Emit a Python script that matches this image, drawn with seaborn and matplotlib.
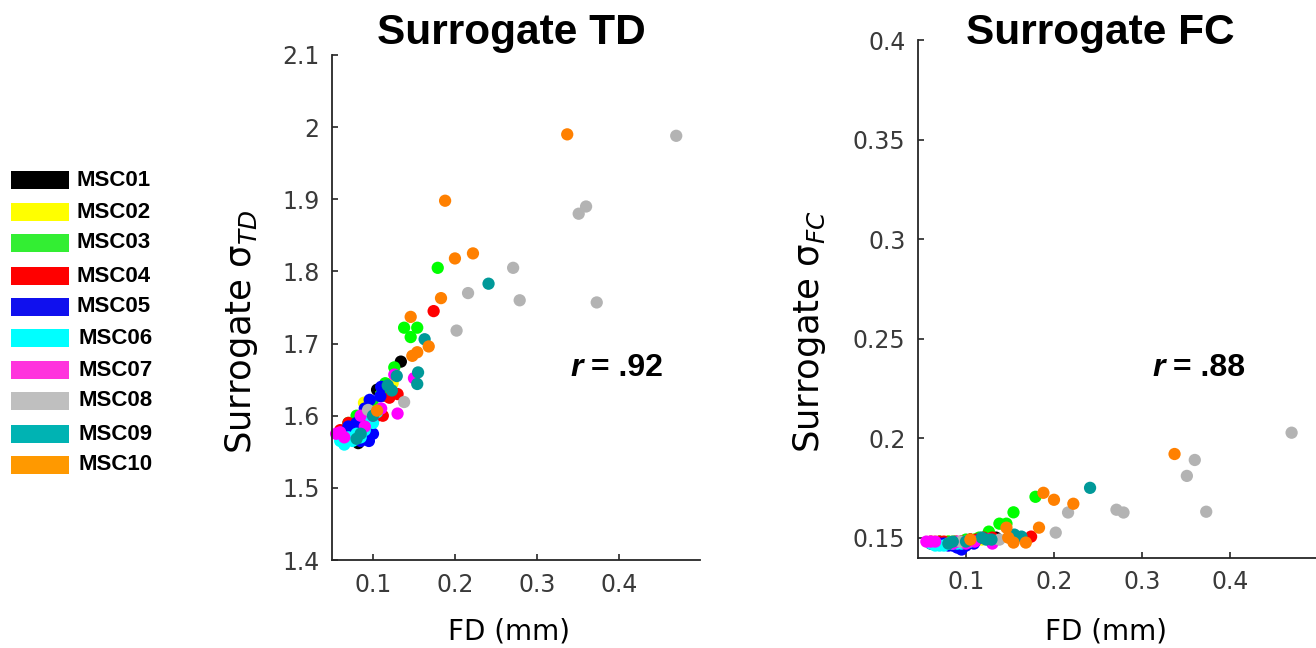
import numpy as np
import pandas as pd
import matplotlib
matplotlib.use("Agg")
import matplotlib.pyplot as plt
from matplotlib.patches import Rectangle
from matplotlib.ticker import FuncFormatter
import seaborn as sns

subjects = ["MSC01", "MSC02", "MSC03", "MSC04", "MSC05",
            "MSC06", "MSC07", "MSC08", "MSC09", "MSC10"]
point_colors = ["#000000", "#FFFF00", "#00FF00", "#FF0000", "#0000FF",
                "#00FFFF", "#FF00FF", "#B3B3B3", "#009999", "#FF8000"]
legend_colors = ["#000000", "#FFFF00", "#33EE33", "#FF0000", "#1010EE",
                 "#00FFFF", "#FF33DD", "#BFBFBF", "#00B3B3", "#FF9900"]

fd_MSC01 = [0.134, 0.105, 0.113, 0.098, 0.088, 0.060, 0.082, 0.095, 0.075, 0.090]
td_MSC01 = [1.675, 1.636, 1.628, 1.605, 1.592, 1.573, 1.562, 1.598, 1.580, 1.570]
fc_MSC01 = [0.150, 0.149, 0.149, 0.148, 0.148, 0.147, 0.147, 0.148, 0.147, 0.146]

fd_MSC02 = [0.124, 0.089, 0.100, 0.070, 0.080, 0.110, 0.065, 0.095, 0.118, 0.085]
td_MSC02 = [1.645, 1.618, 1.612, 1.580, 1.585, 1.630, 1.575, 1.600, 1.640, 1.590]
fc_MSC02 = [0.150, 0.148, 0.148, 0.147, 0.148, 0.149, 0.148, 0.148, 0.149, 0.148]

fd_MSC03 = [0.179, 0.138, 0.154, 0.146, 0.126, 0.115, 0.110, 0.100, 0.080, 0.070]
td_MSC03 = [1.805, 1.722, 1.722, 1.709, 1.667, 1.645, 1.630, 1.615, 1.600, 1.590]
fc_MSC03 = [0.1705, 0.157, 0.1627, 0.157, 0.153, 0.150, 0.149, 0.149, 0.148, 0.148]

fd_MSC04 = [0.174, 0.130, 0.112, 0.070, 0.075, 0.095, 0.105, 0.085, 0.060, 0.120]
td_MSC04 = [1.745, 1.630, 1.600, 1.590, 1.585, 1.590, 1.600, 1.575, 1.580, 1.625]
fc_MSC04 = [0.1505, 0.150, 0.149, 0.148, 0.148, 0.148, 0.149, 0.147, 0.148, 0.150]

fd_MSC05 = [0.096, 0.109, 0.090, 0.080, 0.075, 0.100, 0.085, 0.095, 0.110, 0.070]
td_MSC05 = [1.622, 1.627, 1.610, 1.590, 1.575, 1.575, 1.565, 1.565, 1.640, 1.585]
fc_MSC05 = [0.146, 0.147, 0.145, 0.146, 0.147, 0.146, 0.146, 0.144, 0.148, 0.147]

fd_MSC06 = [0.065, 0.075, 0.085, 0.090, 0.100, 0.070, 0.080, 0.095, 0.105, 0.060]
td_MSC06 = [1.560, 1.565, 1.570, 1.580, 1.590, 1.570, 1.575, 1.600, 1.605, 1.565]
fc_MSC06 = [0.146, 0.146, 0.147, 0.147, 0.148, 0.146, 0.147, 0.147, 0.148, 0.147]

fd_MSC07 = [0.126, 0.150, 0.130, 0.060, 0.055, 0.085, 0.100, 0.110, 0.090, 0.065]
td_MSC07 = [1.657, 1.652, 1.603, 1.577, 1.575, 1.600, 1.600, 1.610, 1.585, 1.570]
fc_MSC07 = [0.149, 0.150, 0.147, 0.148, 0.148, 0.147, 0.147, 0.148, 0.148, 0.148]

fd_MSC08 = [0.470, 0.360, 0.351, 0.271, 0.279, 0.373, 0.216, 0.202, 0.138, 0.094]
td_MSC08 = [1.988, 1.890, 1.880, 1.805, 1.760, 1.757, 1.770, 1.718, 1.619, 1.608]
fc_MSC08 = [0.2027, 0.189, 0.181, 0.164, 0.1626, 0.163, 0.1626, 0.1525, 0.149, 0.148]

fd_MSC09 = [0.241, 0.163, 0.155, 0.154, 0.129, 0.118, 0.123, 0.100, 0.085, 0.080]
td_MSC09 = [1.783, 1.706, 1.660, 1.644, 1.655, 1.642, 1.635, 1.600, 1.575, 1.568]
fc_MSC09 = [0.175, 0.1505, 0.1515, 0.150, 0.149, 0.150, 0.149, 0.148, 0.148, 0.147]

fd_MSC10 = [0.337, 0.188, 0.222, 0.200, 0.183, 0.146, 0.168, 0.154, 0.148, 0.105]
td_MSC10 = [1.990, 1.898, 1.825, 1.818, 1.763, 1.737, 1.696, 1.688, 1.683, 1.607]
fc_MSC10 = [0.192, 0.1725, 0.167, 0.169, 0.155, 0.155, 0.1475, 0.1475, 0.150, 0.149]

r_td = ".92"
r_fc = ".88"

fd_all = [fd_MSC01, fd_MSC02, fd_MSC03, fd_MSC04, fd_MSC05,
          fd_MSC06, fd_MSC07, fd_MSC08, fd_MSC09, fd_MSC10]
td_all = [td_MSC01, td_MSC02, td_MSC03, td_MSC04, td_MSC05,
          td_MSC06, td_MSC07, td_MSC08, td_MSC09, td_MSC10]
fc_all = [fc_MSC01, fc_MSC02, fc_MSC03, fc_MSC04, fc_MSC05,
          fc_MSC06, fc_MSC07, fc_MSC08, fc_MSC09, fc_MSC10]

rows = []
for s, f, t, c in zip(subjects, fd_all, td_all, fc_all):
    for a, b, d in zip(f, t, c):
        rows.append({"subject": s, "FD": a, "TD": b, "FC": d})
df = pd.DataFrame(rows)

sns.set_style("white")
plt.rcParams["font.family"] = ["DejaVu Sans"]
plt.rcParams["text.color"] = "black"
plt.rcParams["axes.labelcolor"] = "black"

W, H = 1316, 648
fig = plt.figure(figsize=(W / 100, H / 100), dpi=100)


def fx(px):
    return px / W


def fy(py):
    return 1 - py / H


ax1 = fig.add_axes([fx(332), fy(560), fx(700) - fx(332), fy(55) - fy(560)])
ax2 = fig.add_axes([fx(918), fy(557.5), fx(1318) - fx(918), fy(40) - fy(557.5)])

palette = dict(zip(subjects, point_colors))
for ax, ycol in [(ax1, "TD"), (ax2, "FC")]:
    sns.scatterplot(data=df, x="FD", y=ycol, hue="subject", palette=palette,
                    s=78, linewidth=0, legend=False, ax=ax, clip_on=False)
    for sp in ["top", "right"]:
        ax.spines[sp].set_visible(False)
    for sp in ["left", "bottom"]:
        ax.spines[sp].set_color("#262626")
        ax.spines[sp].set_linewidth(1.3)
    ax.tick_params(direction="in", length=4, width=1.2, color="#262626",
                   labelsize=17, labelcolor="#3a3a3a", pad=9,
                   bottom=True, left=True)
    ax.yaxis.set_major_formatter(FuncFormatter(lambda v, p: "%g" % round(v, 3)))
    ax.set_xticks([0.1, 0.2, 0.3, 0.4])
    ax.set_xlabel("FD (mm)", fontsize=20, color="black")
    ax.set_facecolor("none")

ax1.set_xlim(0.05, 0.499)
ax1.set_ylim(1.4, 2.1)
ax1.set_yticks(np.arange(1.4, 2.11, 0.1))
ax1.set_ylabel("Surrogate σ$_{TD}$", fontsize=25.5, color="black")
ax1.yaxis.set_label_coords(-0.196, 0.452)
ax1.xaxis.set_label_coords(0.481, -0.113)

ax2.set_xlim(0.0455, 0.5)
ax2.set_ylim(0.14, 0.4)
ax2.set_yticks([0.15, 0.2, 0.25, 0.3, 0.35, 0.4])
ax2.set_ylabel("Surrogate σ$_{FC}$", fontsize=25.5, color="black")
ax2.yaxis.set_label_coords(-0.225, 0.436)
ax2.xaxis.set_label_coords(0.47, -0.115)

# titles
fig.text(fx(511), fy(33), "Surrogate TD", ha="center", va="center",
         fontsize=30.5, fontweight="bold", family="Liberation Sans", color="black")
fig.text(fx(1100), fy(33), "Surrogate FC", ha="center", va="center",
         fontsize=30.5, fontweight="bold", family="Liberation Sans", color="black")

# r annotations
for xpx, val in [(570, r_td), (1152, r_fc)]:
    t = fig.text(fx(xpx), fy(368), "r", ha="left", va="center", fontsize=23,
                 fontweight="bold", fontstyle="italic", family="Liberation Sans",
                 color="black")
    fig.add_artist(matplotlib.text.Annotation(
        " = " + val, xy=(1, 0.5), xycoords=t, ha="left", va="center",
        fontsize=23, fontweight="bold", family="Liberation Sans", color="black",
        annotation_clip=False))

# legend
leg_y = [180, 212, 243, 276, 307, 338, 370, 401, 434, 465]
leg_tx = [76, 76, 76, 76, 76, 78, 78, 78, 78, 78]
for name, col, yc, tx in zip(subjects, legend_colors, leg_y, leg_tx):
    fig.patches.append(Rectangle((fx(11), fy(yc + 9)), fx(69) - fx(11), fy(yc - 9) - fy(yc + 9),
                                 transform=fig.transFigure, facecolor=col,
                                 edgecolor="none", figure=fig))
    fig.text(fx(tx), fy(yc), name, ha="left", va="center", fontsize=16,
             fontweight="bold", family="Liberation Sans", color="black")

fig.savefig("out.png", dpi=100)
